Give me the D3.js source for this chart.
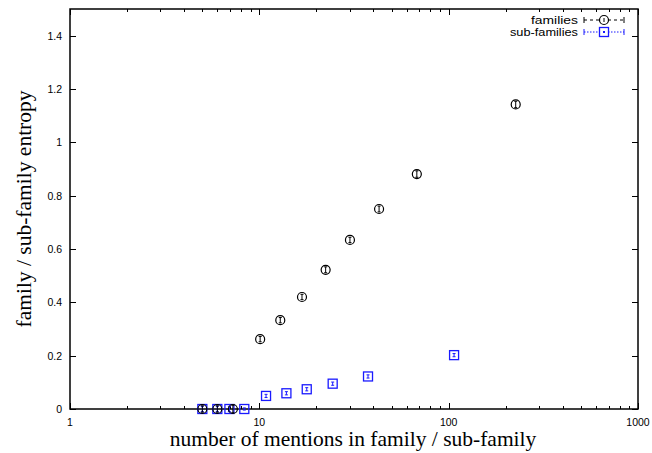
<!DOCTYPE html>
<html>
<head>
<meta charset="utf-8">
<script src="https://cdn.jsdelivr.net/npm/d3@7"></script>
<style>
html,body{margin:0;padding:0;background:#fff;}
svg{display:block;}
</style>
</head>
<body>
<svg id="chart" width="652" height="453"></svg>
<script>
// ---- data ----
const famX   = [5.0, 6.0, 7.25, 10.1, 12.9, 16.8, 22.4, 30.1, 42.9, 67.9, 226];
const famY   = [0, 0, 0, 0.262, 0.333, 0.420, 0.522, 0.634, 0.750, 0.881, 1.142];
const famErr = [0.012, 0.012, 0.014, 0.010, 0.010, 0.010, 0.011, 0.010, 0.011, 0.012, 0.012];
const subX   = [5.0, 6.0, 6.95, 8.33, 10.85, 13.9, 17.8, 24.4, 37.5, 106.8];
const subY   = [0, 0, 0, 0, 0.049, 0.059, 0.074, 0.095, 0.122, 0.202];
const subErr = [0.010, 0.010, 0.010, 0.004, 0.006, 0.006, 0.006, 0.006, 0.006, 0.006];
const xTicks = [1, 10, 100, 1000];
const yTicks = [0, 0.2, 0.4, 0.6, 0.8, 1, 1.2, 1.4];
const seriesNames = ["families", "sub-families"];
const seriesColors = ["#000000", "#1a1aff"];

// ---- layout ----
const L = 70, R = 638, T = 9, B = 409;
const svg = d3.select("#chart");
const x = d3.scaleLog().domain([1, 1000]).range([L, R]);
const y = d3.scaleLinear().domain([0, 1.5]).range([B, T]);

const sans = "'Liberation Sans', Arial, Helvetica, sans-serif";
const serif = "'Liberation Serif', 'Times New Roman', serif";

// ticks (inside, mirrored)
const gT = svg.append("g").attr("stroke", "#000").attr("stroke-width", 1);
const minors = [];
for (let d = 1; d < 1000; d *= 10) for (let k = 2; k <= 9; k++) minors.push(d * k);
minors.forEach(v => {
  const px = Math.round(x(v)) + 0.5;
  gT.append("line").attr("x1", px).attr("x2", px).attr("y1", B).attr("y2", B - 3);
  gT.append("line").attr("x1", px).attr("x2", px).attr("y1", T).attr("y2", T + 3);
});
xTicks.forEach(v => {
  const px = Math.round(x(v)) + 0.5;
  gT.append("line").attr("x1", px).attr("x2", px).attr("y1", B).attr("y2", B - 6);
  gT.append("line").attr("x1", px).attr("x2", px).attr("y1", T).attr("y2", T + 6);
});
yTicks.forEach(v => {
  const py = Math.round(y(v)) + 0.5;
  gT.append("line").attr("x1", L).attr("x2", L + 6).attr("y1", py).attr("y2", py);
  gT.append("line").attr("x1", R).attr("x2", R - 6).attr("y1", py).attr("y2", py);
});

// frame
svg.append("rect").attr("x", L).attr("y", T).attr("width", R - L).attr("height", B - T)
  .attr("fill", "none").attr("stroke", "#000").attr("stroke-width", 1.5);

// tick labels
svg.append("g").selectAll("text").data(yTicks).join("text")
  .attr("x", L - 8).attr("y", d => y(d) + 4)
  .attr("text-anchor", "end").attr("font-family", sans).attr("font-size", 10.5)
  .text(d => d3.format("")(d));
svg.append("g").selectAll("text").data(xTicks).join("text")
  .attr("x", d => x(d)).attr("y", B + 17)
  .attr("text-anchor", "middle").attr("font-family", sans).attr("font-size", 10.5)
  .text(d => String(d));

// axis titles
svg.append("text").attr("x", 353).attr("y", 446)
  .attr("text-anchor", "middle").attr("font-family", serif).attr("font-size", 21.5)
  .text("number of mentions in family / sub-family");
svg.append("text").attr("transform", `translate(31,${(T + B) / 2}) rotate(-90)`)
  .attr("text-anchor", "middle").attr("font-family", serif).attr("font-size", 21.5)
  .text("family / sub-family entropy");

// markers
function errbar(g, cx, cy, e, color) {
  const h = y(0) - y(e);
  const top = cy - h, bot = cy + h;
  g.append("line").attr("x1", cx).attr("x2", cx).attr("y1", top).attr("y2", bot)
    .attr("stroke", color).attr("stroke-width", 1);
  g.append("line").attr("x1", cx - 1.5).attr("x2", cx + 1.5).attr("y1", top).attr("y2", top)
    .attr("stroke", color).attr("stroke-width", 1);
  g.append("line").attr("x1", cx - 1.5).attr("x2", cx + 1.5).attr("y1", bot).attr("y2", bot)
    .attr("stroke", color).attr("stroke-width", 1);
}
const gS = svg.append("g");
subX.forEach((v, i) => {
  const cx = x(v), cy = y(subY[i]);
  errbar(gS, cx, cy, subErr[i], seriesColors[1]);
  gS.append("rect").attr("x", cx - 4.5).attr("y", cy - 4.5).attr("width", 9).attr("height", 9)
    .attr("fill", "none").attr("stroke", seriesColors[1]).attr("stroke-width", 1.3);
});
const gF = svg.append("g");
famX.forEach((v, i) => {
  const cx = x(v), cy = y(famY[i]);
  errbar(gF, cx, cy, famErr[i], seriesColors[0]);
  gF.append("circle").attr("cx", cx).attr("cy", cy).attr("r", 4.5)
    .attr("fill", "none").attr("stroke", seriesColors[0]).attr("stroke-width", 1.2);
});

// legend
const lg = svg.append("g");
const legendW = [47, 68];
seriesNames.forEach((name, i) => {
  const ly = 20 + i * 12;
  const c = seriesColors[i];
  lg.append("text").attr("x", 578).attr("y", ly + 4).attr("text-anchor", "end")
    .attr("font-family", sans).attr("font-size", 10)
    .attr("textLength", legendW[i]).attr("lengthAdjust", "spacingAndGlyphs").text(name);
  lg.append("line").attr("x1", 584).attr("x2", 624).attr("y1", ly).attr("y2", ly)
    .attr("stroke", c).attr("stroke-width", 1).attr("stroke-dasharray", i === 0 ? "3,3" : "1.5,1.5");
  [584, 624].forEach(ex => lg.append("line").attr("x1", ex).attr("x2", ex)
    .attr("y1", ly - 3).attr("y2", ly + 3).attr("stroke", c));
  if (i === 0) {
    lg.append("circle").attr("cx", 604).attr("cy", ly).attr("r", 4.5).attr("fill", "#fff")
      .attr("stroke", c).attr("stroke-width", 1.2);
    lg.append("line").attr("x1", 604).attr("x2", 604).attr("y1", ly - 2).attr("y2", ly + 2).attr("stroke", c);
  } else {
    lg.append("rect").attr("x", 599.5).attr("y", ly - 4.5).attr("width", 9).attr("height", 9)
      .attr("fill", "#fff").attr("stroke", c).attr("stroke-width", 1.3);
    lg.append("rect").attr("x", 603).attr("y", ly - 1).attr("width", 2).attr("height", 2).attr("fill", c);
  }
});
</script>
</body>
</html>
